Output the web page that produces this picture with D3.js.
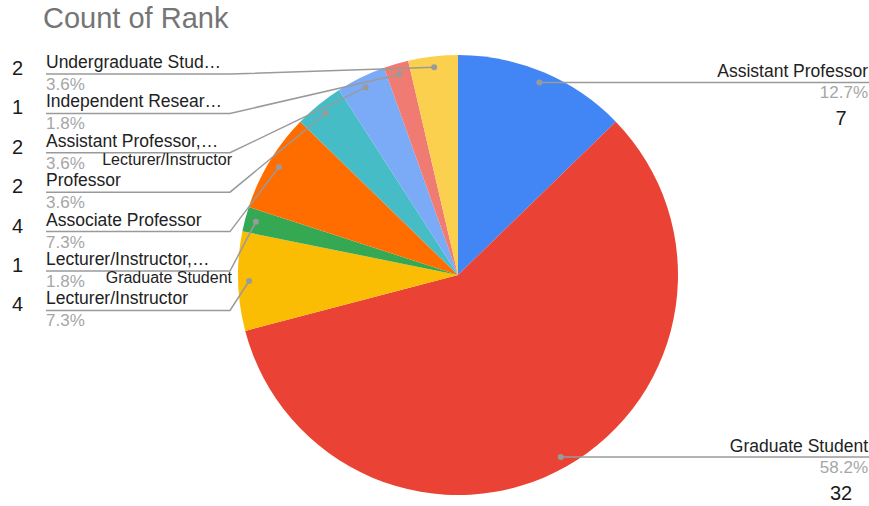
<!DOCTYPE html>
<html>
<head>
<meta charset="utf-8">
<script src="https://cdn.jsdelivr.net/npm/d3@7"></script>
<style>
  body { margin: 0; background: #fff; }
  svg { display: block; font-family: "Liberation Sans", Arial, sans-serif; }
</style>
</head>
<body>
<div id="chart"></div>
<script>
// slices in sheet order, clockwise from 12 o'clock
const categories = [
  'Assistant Professor', 'Graduate Student', 'Lecturer/Instructor',
  'Lecturer/Instructor, Graduate Student', 'Associate Professor', 'Professor',
  'Assistant Professor, Lecturer/Instructor', 'Independent Researcher', 'Undergraduate Student'
];
const counts = [7, 32, 4, 1, 4, 2, 2, 1, 2];
const labelText = [
  'Assistant Professor', 'Graduate Student', 'Lecturer/Instructor',
  'Lecturer/Instructor,\u2026', 'Associate Professor', 'Professor',
  'Assistant Professor,\u2026', 'Independent Resear\u2026', 'Undergraduate Stud\u2026'
];
const subText = ['', '', '', 'Graduate Student', '', '', 'Lecturer/Instructor', '', ''];
const colors = [
  '#4285F4', '#EA4335', '#FBBC04', '#34A853', '#FF6D01',
  '#46BDC6', '#7BAAF7', '#F07B72', '#FCD04F'
];

const width = 869, height = 506;
const cx = 458, cy = 275, radius = 220;
const lineColor = '#9a9a9a';

const svg = d3.select('#chart').append('svg')
  .attr('width', width)
  .attr('height', height);

svg.append('text')
  .attr('x', 43)
  .attr('y', 28)
  .style('font-size', '29px')
  .style('fill', '#757575')
  .text('Count of Rank');

const total = d3.sum(counts);
const pct = d3.format('.1%');

const pie = d3.pie().sort(null).value(d => d);
const arcs = pie(counts);
const arc = d3.arc().innerRadius(0).outerRadius(radius);

const g = svg.append('g').attr('transform', `translate(${cx},${cy})`);

g.selectAll('path')
  .data(arcs)
  .enter()
  .append('path')
  .attr('d', arc)
  .style('fill', (d, i) => colors[i]);

// point inside each slice where the leader line starts
const dotRadius = radius * 0.95;
const dotOf = d => {
  const a = (d.startAngle + d.endAngle) / 2;
  return [cx + Math.sin(a) * dotRadius, cy - Math.cos(a) * dotRadius];
};

const labels = svg.append('g');

// left side: stacked from the top, nearest-to-12 first
const leftArcs = arcs.filter(d => (d.startAngle + d.endAngle) / 2 > Math.PI)
  .sort((a, b) => b.startAngle - a.startAngle);
const rightArcs = arcs.filter(d => (d.startAngle + d.endAngle) / 2 <= Math.PI);

const leftTop = 74, leftStep = 39.4, leftX = 46, elbowX = 230;

leftArcs.forEach((d, slot) => {
  const i = d.index;
  const y = leftTop + slot * leftStep;
  const [px, py] = dotOf(d);

  labels.append('polyline')
    .attr('points', `${leftX},${y} ${elbowX},${y} ${px},${py}`)
    .style('fill', 'none')
    .style('stroke', lineColor)
    .style('stroke-width', 1.5);

  labels.append('circle')
    .attr('cx', px).attr('cy', py).attr('r', 3)
    .style('fill', lineColor);

  labels.append('text')
    .attr('x', 12).attr('y', y + 1)
    .style('font-size', '20px')
    .style('fill', '#1a1a1a')
    .text(counts[i]);

  labels.append('text')
    .attr('x', leftX).attr('y', y - 6)
    .style('font-size', '17.5px')
    .style('fill', '#222')
    .text(labelText[i]);

  labels.append('text')
    .attr('x', leftX).attr('y', y + 16)
    .style('font-size', '17px')
    .style('fill', '#a6a6a6')
    .text(pct(counts[i] / total));

  if (subText[i]) {
    labels.append('text')
      .attr('x', elbowX + 2).attr('y', y + 12)
      .attr('text-anchor', 'end')
      .style('font-size', '16px')
      .style('fill', '#222')
      .text(subText[i]);
  }
});

rightArcs.forEach(d => {
  const i = d.index;
  const [px, py] = dotOf(d);

  labels.append('line')
    .attr('x1', px).attr('y1', py)
    .attr('x2', width).attr('y2', py)
    .style('stroke', lineColor)
    .style('stroke-width', 1.5);

  labels.append('circle')
    .attr('cx', px).attr('cy', py).attr('r', 3)
    .style('fill', lineColor);

  labels.append('text')
    .attr('x', 868).attr('y', py - 5)
    .attr('text-anchor', 'end')
    .style('font-size', '17.5px')
    .style('fill', '#222')
    .text(labelText[i]);

  labels.append('text')
    .attr('x', 868).attr('y', py + 16)
    .attr('text-anchor', 'end')
    .style('font-size', '17px')
    .style('fill', '#a6a6a6')
    .text(pct(counts[i] / total));

  labels.append('text')
    .attr('x', 841).attr('y', py + 43)
    .attr('text-anchor', 'middle')
    .style('font-size', '20px')
    .style('fill', '#1a1a1a')
    .text(counts[i]);
});
</script>
</body>
</html>
